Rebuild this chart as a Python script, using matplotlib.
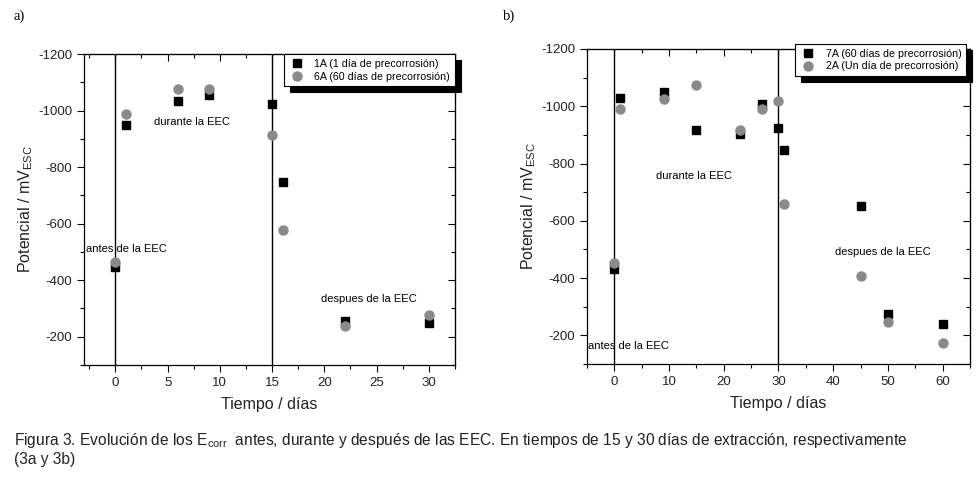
import matplotlib
matplotlib.use("Agg")
import matplotlib.pyplot as plt

plt.rcParams["font.family"] = ["Liberation Sans", "DejaVu Sans"]
plt.rcParams["mathtext.fontset"] = "custom"
plt.rcParams["mathtext.rm"] = "Liberation Sans"
plt.rcParams["mathtext.it"] = "Liberation Sans"
plt.rcParams["axes.unicode_minus"] = False

# panel a) extraction of 15 days
dias_a = [0, 1, 6, 9, 15, 16, 22, 30]
pot_1A = [-445, -950, -1034, -1055, -1023, -749, -255, -247]
pot_6A = [-465, -989, -1075, -1075, -915, -578, -239, -277]
limites_a = [0, 15]

# panel b) extraction of 30 days
dias_b = [0, 1, 9, 15, 23, 27, 30, 31, 45, 50, 60]
pot_7A = [-430, -1028, -1049, -916, -904, -1008, -923, -846, -650, -276, -241]
pot_2A = [-452, -990, -1024, -1076, -917, -989, -1020, -657, -409, -248, -174]
limites_b = [0, 30]

gris = "#8a8a8a"

fig = plt.figure(figsize=(9.78, 4.78), dpi=100)
ax1 = fig.add_axes([0.0859, 0.2364, 0.3793, 0.6506])
ax2 = fig.add_axes([0.6002, 0.2385, 0.3916, 0.6590])


def style_axes(ax, xlim, xmajor, xminor):
    ax.set_xlim(*xlim)
    ax.set_ylim(-100, -1200)
    ax.set_xticks(xmajor)
    ax.set_xticks(xminor, minor=True)
    ax.set_yticks([-200, -400, -600, -800, -1000, -1200])
    ax.set_yticks([-100, -300, -500, -700, -900, -1100], minor=True)
    ax.tick_params(which="both", direction="out", labelsize=9.5, width=0.8,
                   labelcolor="#222222")
    ax.tick_params(which="major", length=5)
    ax.tick_params(which="minor", length=3)
    for side in ["top", "right"]:
        sec = ax.secondary_xaxis("top") if side == "top" else ax.secondary_yaxis("right")
        if side == "top":
            sec.set_xticks(xmajor)
            sec.set_xticks(xminor, minor=True)
        else:
            sec.set_yticks([-200, -400, -600, -800, -1000, -1200])
            sec.set_yticks([-100, -300, -500, -700, -900, -1100], minor=True)
        sec.tick_params(which="both", direction="in", labelleft=False, labelright=False,
                        labeltop=False, labelbottom=False, width=0.8)
        sec.tick_params(which="major", length=5)
        sec.tick_params(which="minor", length=3)
    for s in ax.spines.values():
        s.set_linewidth(0.9)
    ax.set_xlabel("Tiempo / días", fontsize=11.5, color="#222222", labelpad=6)
    ax.set_ylabel("Potencial / mV$_{\\mathrm{ESC}}$", fontsize=11.5, color="#222222",
                  labelpad=2)


# --- a)
style_axes(ax1, (-3, 32.5), [0, 5, 10, 15, 20, 25, 30],
           [-2.5, 2.5, 7.5, 12.5, 17.5, 22.5, 27.5, 32.5])
for xv in limites_a:
    ax1.axvline(xv, color="black", lw=1)
ax1.plot(dias_a, pot_1A, "s", color="black", ms=6, label="1A (1 día de precorrosión)")
ax1.plot(dias_a, pot_6A, "o", color=gris, ms=6.5, label="6A (60 días de precorrosión)")
ax1.text(7.3, -960, "durante la EEC", fontsize=8, ha="center", va="center")
ax1.text(1.05, -512, "antes de la EEC", fontsize=8, ha="center", va="center")
ax1.text(24.3, -335, "despues de la EEC", fontsize=8, ha="center", va="center")
leg1 = ax1.legend(loc="upper right", bbox_to_anchor=(1.0, 1.0), borderaxespad=0,
                  fontsize=7.7, fancybox=False, edgecolor="black", framealpha=1,
                  handletextpad=0.8, borderpad=0.45, labelspacing=0.25, handlelength=1.6,
                  shadow={"color": "black", "alpha": 1, "ox": 4.5, "oy": -4})
leg1.get_frame().set_linewidth(0.8)

# --- b)
style_axes(ax2, (-5, 65), [0, 10, 20, 30, 40, 50, 60],
           [-5, 5, 15, 25, 35, 45, 55, 65])
for xv in limites_b:
    ax2.axvline(xv, color="black", lw=1)
ax2.plot(dias_b, pot_7A, "s", color="black", ms=6, label="7A (60 días de precorrosión)")
ax2.plot(dias_b, pot_2A, "o", color=gris, ms=6.5, label="2A (Un día de precorrosión)")
ax2.text(14.6, -757, "durante la EEC", fontsize=8, ha="center", va="center")
ax2.text(49, -491, "despues de la EEC", fontsize=8, ha="center", va="center")
ax2.text(2.6, -162, "antes de la EEC", fontsize=8, ha="center", va="center")
leg2 = ax2.legend(loc="upper right", bbox_to_anchor=(0.99, 1.016), borderaxespad=0,
                  fontsize=7.7, fancybox=False, edgecolor="black", framealpha=1,
                  handletextpad=0.8, borderpad=0.45, labelspacing=0.25, handlelength=1.6,
                  shadow={"color": "black", "alpha": 1, "ox": 4.5, "oy": -4})
leg2.get_frame().set_linewidth(0.8)

fig.text(14 / 978, 1 - 16 / 478, "a)", family="Liberation Serif", fontsize=10.5, va="center")
fig.text(503 / 978, 1 - 16 / 478, "b)", family="Liberation Serif", fontsize=10.5, va="center")

caption = ("Figura 3. Evolución de los E$_{\\mathrm{corr}}$  antes, durante y después de las EEC. "
           "En tiempos de 15 y 30 días de extracción, respectivamente\n(3a y 3b)")
fig.text(14 / 978, 1 - 431 / 478, caption, family=["Liberation Sans Narrow", "Liberation Sans"],
         fontsize=11.2, va="top", linespacing=1.2, color="#222222")

fig.savefig("out.png", dpi=100)
